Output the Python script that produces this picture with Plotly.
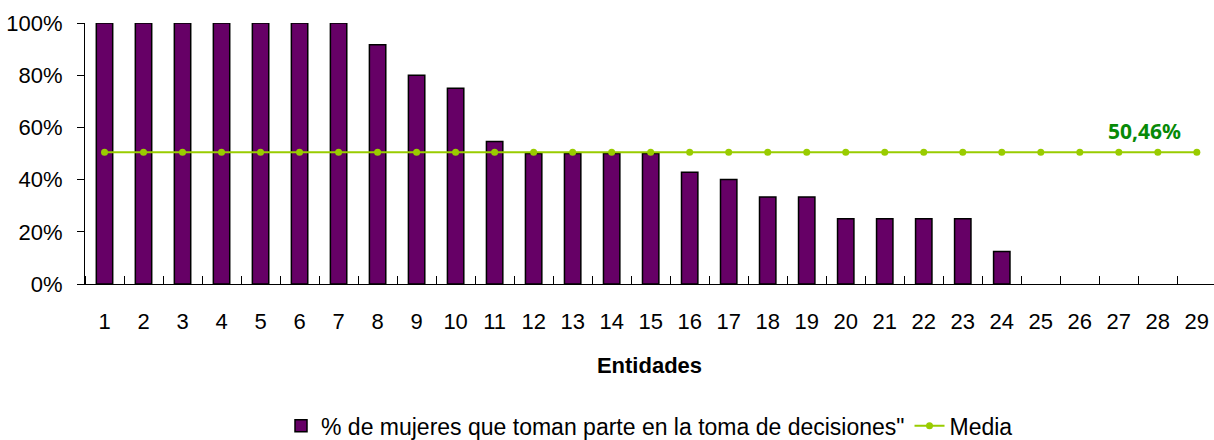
import plotly.graph_objects as go

# datos
entidades = list(range(1, 30))
pct_mujeres = [1.0, 1.0, 1.0, 1.0, 1.0, 1.0, 1.0, 0.9167, 0.80, 0.75,
               0.5455, 0.50, 0.50, 0.50, 0.50, 0.4286, 0.40, 0.3333, 0.3333, 0.25,
               0.25, 0.25, 0.25, 0.125, 0.0, 0.0, 0.0, 0.0, 0.0]
media = 0.5046
media_serie = [media] * len(entidades)
media_txt = "50,46%"

bordes = [e - 0.5 for e in entidades] + [entidades[-1] + 0.5]
# sin borde en las barras de valor cero
bordes_barra = [1.5 if v > 0 else 0 for v in pct_mujeres]

fig = go.Figure()
fig.add_trace(go.Bar(
    x=entidades, y=pct_mujeres,
    name='% de mujeres que toman parte en la toma de decisiones"',
    marker=dict(color="#660066", line=dict(color="black", width=bordes_barra)),
    width=0.42,
))
fig.add_trace(go.Scatter(
    x=entidades, y=media_serie, name="Media", mode="lines+markers",
    line=dict(color="#99CC00", width=2),
    marker=dict(color="#99CC00", size=7),
))

font = "Liberation Sans, Arial, sans-serif"
fig.add_annotation(
    x=entidades[-3], y=media, text="<b>" + media_txt + "</b>", showarrow=False,
    yshift=21, xshift=26,
    font=dict(family="Noto Sans, sans-serif", size=21, color="#078A07"),
)

fig.update_layout(
    width=1214, height=440,
    margin=dict(l=85, r=0, t=23, b=156, autoexpand=False),
    paper_bgcolor="white", plot_bgcolor="white",
    font=dict(family=font, size=22, color="black"),
    showlegend=True,
    legend=dict(orientation="h", x=0.5, xanchor="center", yref="container",
                y=0.032, yanchor="middle", font=dict(size=23), itemwidth=30,
                traceorder="normal"),
    xaxis=dict(range=[0.5, 29.44], tickmode="array", tickvals=bordes,
               ticktext=[""] * len(bordes), ticks="outside", ticklen=8,
               tickcolor="black", showline=True, linecolor="black", linewidth=1,
               showgrid=False, zeroline=False, automargin=False,
               minor=dict(tickmode="array", tickvals=bordes, ticks="inside",
                          ticklen=8, tickcolor="black"),
               title=None),
    xaxis2=dict(range=[0.5, 29.44], overlaying="x", anchor="y", side="bottom",
                tickmode="array", tickvals=entidades,
                ticktext=[str(e) for e in entidades], ticks="",
                ticklabelstandoff=22, showgrid=False, zeroline=False,
                showline=False, automargin=False,
                title=dict(text="<b>Entidades</b>", standoff=24,
                           font=dict(size=22))),
    yaxis=dict(range=[0, 1], tickvals=[0, 0.2, 0.4, 0.6, 0.8, 1.0],
               tickformat=".0%", ticks="outside", ticklen=7, tickcolor="black",
               showline=True, linecolor="black", linewidth=1, automargin=False,
               showgrid=False, zeroline=False, ticklabelstandoff=10),
    bargap=0.58,
)
# traza invisible para que se dibuje el eje de etiquetas
fig.add_trace(go.Scatter(x=[1], y=[0], xaxis="x2", mode="markers",
                         marker=dict(opacity=0), showlegend=False,
                         hoverinfo="skip"))

fig.write_html("out.html", config={"displayModeBar": False},
               post_script="document.body.style.margin='0';")
